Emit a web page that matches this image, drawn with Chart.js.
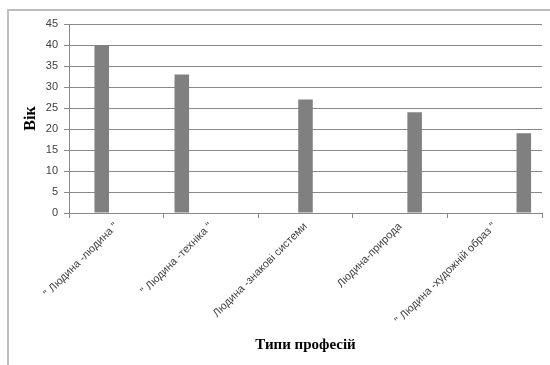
<!DOCTYPE html>
<html>
<head>
<meta charset="utf-8">
<script src="https://cdn.jsdelivr.net/npm/chart.js@4"></script>
<style>
  html, body { margin: 0; padding: 0; background: #fff; }
  #wrap { width: 550px; height: 365px; }
</style>
</head>
<body>
<div id="wrap"><canvas id="c" width="550" height="365"></canvas></div>
<script>
// Профтипи та середній вік
const categories = ['" Людина -людина "', '" Людина -техніка "', 'Людина -знакові системи', 'Людина-природа', '" Людина -художній образ "'];
const ages = [40, 33, 27, 24, 19];
const yTicks = [0, 5, 10, 15, 20, 25, 30, 35, 40, 45];
const yTitle = 'Вік';
const xTitle = 'Типи професій';
// order in which the series were added (category index per series)
const seriesOrder = [1, 0, 2, 3, 4];

// each profession type is its own series, filled only at its own category
const datasets = seriesOrder.map(i => ({
  label: categories[i],
  data: categories.map((_, j) => (j === i ? ages[i] : null)),
  backgroundColor: '#808080',
  borderWidth: 0,
  barPercentage: 1,
  categoryPercentage: 5 / 6.5
}));

const frame = {
  id: 'frame',
  beforeDraw(chart) {
    const ctx = chart.ctx;
    ctx.save();
    ctx.strokeStyle = '#bdbdbd';
    ctx.lineWidth = 2;
    ctx.strokeRect(8, 10, 700, 700);
    ctx.restore();
  }
};

new Chart(document.getElementById('c'), {
  type: 'bar',
  data: { labels: categories, datasets },
  plugins: [frame],
  options: {
    responsive: false,
    animation: false,
    events: [],
    layout: { padding: { left: 10, right: 8, top: 24, bottom: 0 } },
    plugins: { legend: { display: false }, tooltip: { enabled: false } },
    scales: {
      x: {
        afterFit(s) { s.height = 152; },
        grid: { drawOnChartArea: false, drawTicks: true, tickLength: 5, color: '#888888' },
        border: { color: '#888888' },
        ticks: {
          autoSkip: false, minRotation: 45, maxRotation: 45,
          color: '#404040', padding: 2,
          font: { family: '"Liberation Sans", Arial, sans-serif', size: 11 }
        },
        title: {
          display: true, text: xTitle, color: '#000',
          padding: { top: 0, bottom: 11 },
          font: { family: '"Liberation Serif", "Times New Roman", serif', size: 15, weight: 'bold' }
        }
      },
      y: {
        min: 0, max: 45,
        afterFit(s) { s.width = 59; },
        afterBuildTicks(s) { s.ticks = yTicks.map(v => ({ value: v })); },
        grid: { color: '#888888', tickLength: 5 },
        border: { color: '#888888' },
        ticks: {
          color: '#404040', padding: 6,
          font: { family: '"Liberation Sans", Arial, sans-serif', size: 11 }
        },
        title: {
          display: true, text: yTitle, color: '#000',
          padding: { top: 11, bottom: 0 },
          font: { family: '"Liberation Serif", "Times New Roman", serif', size: 16, weight: 'bold' }
        }
      }
    }
  }
});
</script>
</body>
</html>
